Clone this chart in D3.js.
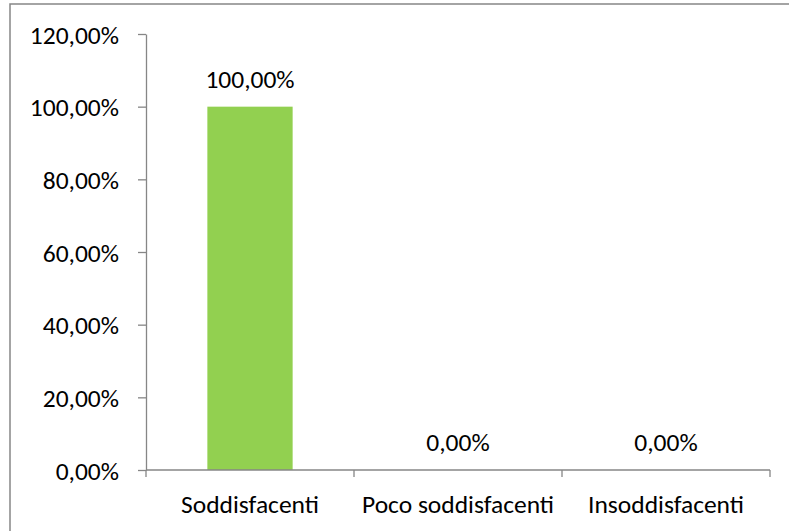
<!DOCTYPE html>
<html>
<head>
<meta charset="utf-8">
<script src="https://cdn.jsdelivr.net/npm/d3@7"></script>
<style>
  html, body { margin: 0; padding: 0; background: #fff; }
  svg { display: block; font-family: "Carlito", "Open Sans", sans-serif; }
</style>
</head>
<body>
<svg id="chart" width="789" height="531"></svg>
<script>
// data
const categories = ["Soddisfacenti", "Poco soddisfacenti", "Insoddisfacenti"];
const values = [1.0, 0.0, 0.0];
const yTicks = [0, 0.2, 0.4, 0.6, 0.8, 1.0, 1.2];

const width = 789;
const height = 531;
const margin = { left: 146, right: 770, top: 34, bottom: 470 };
const fontSize = 25.5;
const axisColor = "#868686";

const fmt = v => (v * 100).toFixed(2).replace(".", ",") + "%";

const svg = d3.select("#chart");

// chart area border (left and top edges show, the rest runs off the picture)
svg.append("rect")
  .attr("x", 10).attr("y", 4)
  .attr("width", width + 20).attr("height", height + 20)
  .attr("fill", "none")
  .attr("stroke", axisColor)
  .attr("stroke-width", 1.5);

// scales
const x = d3.scaleBand()
  .domain(categories)
  .range([margin.left, margin.right])
  .paddingInner(0.59)
  .paddingOuter(0.295);

const y = d3.scaleLinear()
  .domain([0, 1.2])
  .range([margin.bottom, margin.top]);

// y axis
const yAxis = d3.axisLeft(y)
  .tickValues(yTicks)
  .tickFormat(fmt)
  .tickSize(8)
  .tickSizeOuter(0)
  .tickPadding(19);

const gy = svg.append("g")
  .attr("transform", `translate(${margin.left},0)`)
  .call(yAxis);
gy.attr("font-family", null).attr("font-size", null);
gy.select(".domain").attr("stroke", axisColor).attr("stroke-width", 1.3);
gy.selectAll(".tick line").attr("stroke", axisColor).attr("stroke-width", 1.3);
gy.selectAll(".tick text")
  .attr("fill", "#000")
  .attr("font-size", fontSize)
  .attr("dy", "0.36em");

// bars
svg.append("g")
  .selectAll("rect")
  .data(values)
  .join("rect")
  .attr("x", (d, i) => x(categories[i]))
  .attr("y", d => y(d))
  .attr("width", x.bandwidth())
  .attr("height", d => y(0) - y(d))
  .attr("fill", "#92D050");

// x axis: labels at band centres, ticks at band boundaries (Excel style)
const xAxis = d3.axisBottom(x)
  .tickSize(0)
  .tickPadding(25);

const gx = svg.append("g")
  .attr("transform", `translate(0,${margin.bottom})`)
  .call(xAxis);
gx.attr("font-family", null).attr("font-size", null);
gx.select(".domain").remove();
gx.selectAll(".tick text")
  .attr("fill", "#000")
  .attr("font-size", fontSize);

gx.append("line")
  .attr("x1", margin.left).attr("x2", margin.right)
  .attr("stroke", axisColor)
  .attr("stroke-width", 1.3);

const bounds = d3.range(categories.length + 1)
  .map(i => x.range()[0] + i * x.step());
gx.selectAll(".bound")
  .data(bounds)
  .join("line")
  .attr("class", "bound")
  .attr("x1", d => d).attr("x2", d => d)
  .attr("y1", 0).attr("y2", 7)
  .attr("stroke", axisColor)
  .attr("stroke-width", 1.3);

// value labels
svg.append("g")
  .selectAll("text")
  .data(values)
  .join("text")
  .attr("x", (d, i) => x(categories[i]) + x.bandwidth() / 2)
  .attr("y", d => y(d) - 19)
  .attr("text-anchor", "middle")
  .attr("font-size", fontSize)
  .attr("fill", "#000")
  .text(fmt);
</script>
</body>
</html>
